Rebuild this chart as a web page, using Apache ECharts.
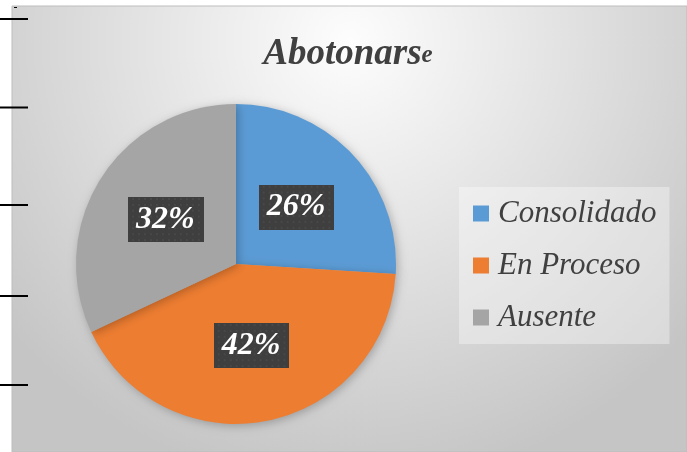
<!DOCTYPE html>
<html>
<head>
<meta charset="utf-8">
<script src="https://cdn.jsdelivr.net/npm/echarts@6/dist/echarts.min.js"></script>
<style>
html,body{margin:0;padding:0;background:#fff;}
#c{width:687px;height:452px;}
</style>
</head>
<body>
<div id="c"></div>
<script>
const categories = ['Consolidado', 'En Proceso', 'Ausente'];
const values = [26, 42, 32];
const colors = ['#5b9bd5', '#ed7d31', '#a5a5a5'];
const titleMain = 'Abotonars';
const titleTail = 'e';

function makePattern(w, h) {
  const cv = document.createElement('canvas');
  cv.width = w; cv.height = h;
  const ctx = cv.getContext('2d');
  ctx.fillStyle = '#3f3f3f';
  ctx.fillRect(0, 0, w, h);
  ctx.fillStyle = '#4c4c4c';
  for (let y = 2; y < h; y += 6) {
    for (let x = (y / 6) % 2 ? 5 : 2; x < w; x += 6) {
      ctx.beginPath(); ctx.arc(x, y, 1.1, 0, Math.PI * 2); ctx.fill();
    }
  }
  return cv;
}
const pat = makePattern(76, 46);

const chart = echarts.init(document.getElementById('c'));
const fam = 'serif';
chart.setOption({
  animation: false,
  graphic: [
    { type: 'rect', shape: { x: 12, y: 6, width: 675, height: 446 }, z: -10,
      style: { fill: new echarts.graphic.RadialGradient(0.5, 0.08, 1.0, [
        { offset: 0, color: '#fdfdfd' }, { offset: 1, color: '#c5c5c5' }]),
        stroke: '#bdbdbd', lineWidth: 1 } },
    { type: 'line', shape: { x1: 14, y1: 7.5, x2: 17, y2: 7.5 }, style: { stroke: '#000', lineWidth: 1 } },
    { type: 'line', shape: { x1: 0, y1: 19, x2: 28, y2: 19 }, style: { stroke: '#000', lineWidth: 2 } },
    { type: 'line', shape: { x1: 0, y1: 107.5, x2: 28, y2: 107.5 }, style: { stroke: '#000', lineWidth: 2 } },
    { type: 'line', shape: { x1: 0, y1: 205, x2: 28, y2: 205 }, style: { stroke: '#000', lineWidth: 2 } },
    { type: 'line', shape: { x1: 0, y1: 296, x2: 28, y2: 296 }, style: { stroke: '#000', lineWidth: 2 } },
    { type: 'line', shape: { x1: 0, y1: 385, x2: 28, y2: 385 }, style: { stroke: '#000', lineWidth: 2 } }
  ],
  title: {
    text: '{a|' + titleMain + '}{b|' + titleTail + '}',
    left: 343, top: 28, textAlign: 'center',
    textStyle: {
      rich: {
        a: { fontFamily: fam, fontStyle: 'italic', fontWeight: 'bold', fontSize: 37, color: '#404040', lineHeight: 40, verticalAlign: 'bottom' },
        b: { fontFamily: fam, fontStyle: 'italic', fontWeight: 'bold', fontSize: 25, color: '#404040', lineHeight: 40, verticalAlign: 'bottom', padding: [0, 0, 5, 0] }
      }
    }
  },
  legend: {
    orient: 'vertical',
    left: 459, top: 187,
    padding: [11, 13, 11, 14],
    backgroundColor: 'rgba(255,255,255,0.35)',
    itemWidth: 16, itemHeight: 16, itemGap: 21,
    icon: 'rect',
    data: categories,
    textStyle: { fontFamily: fam, fontStyle: 'italic', fontSize: 31, color: '#404040', padding: [0, 0, 0, 4] }
  },
  series: [{
    type: 'pie',
    center: [236, 264],
    radius: 160,
    startAngle: 90,
    clockwise: true,
    color: colors,
    itemStyle: { shadowBlur: 10, shadowColor: 'rgba(0,0,0,0.25)', shadowOffsetX: 2, shadowOffsetY: 2 },
    label: {
      position: 'inside',
      formatter: function (p) { return p.value + '%'; },
      fontFamily: fam, fontStyle: 'italic', fontWeight: 'bold', fontSize: 32,
      color: '#ffffff', lineHeight: 33,
      backgroundColor: { image: pat },
      padding: [6, 9, 6, 8],
      shadowBlur: 6, shadowColor: 'rgba(0,0,0,0.55)', shadowOffsetX: 3, shadowOffsetY: 3
    },
    labelLine: { show: false },
    emphasis: { disabled: true },
    data: categories.map((n, i) => ({ name: n, value: values[i] }))
  }]
});
</script>
</body>
</html>
